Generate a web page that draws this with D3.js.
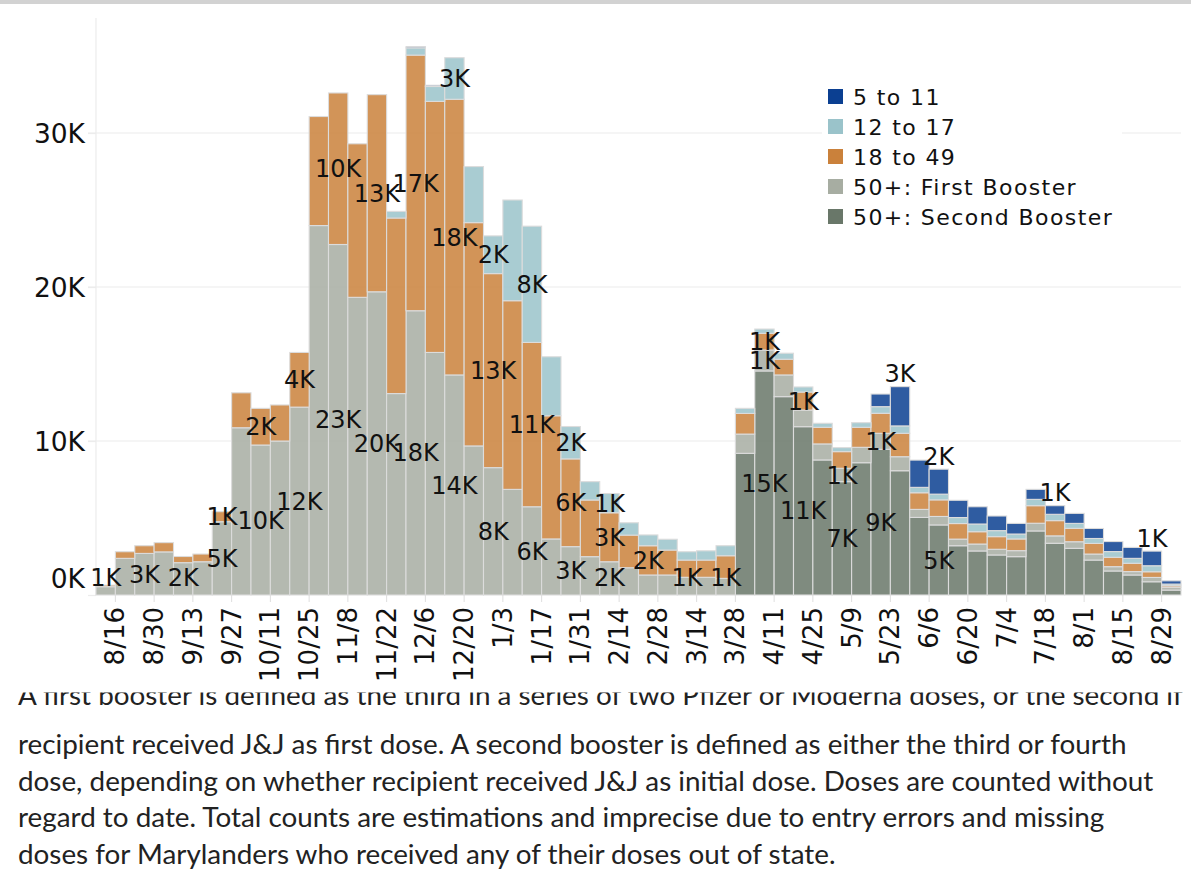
<!DOCTYPE html>
<html><head><meta charset="utf-8">
<script src="https://cdn.jsdelivr.net/npm/d3@7"></script>
<style>
html,body{margin:0;padding:0;background:#fff;overflow:hidden}
svg{display:block}
</style></head><body>
<svg id="c" width="1191" height="886"></svg>
<script>
// ---------------- DATA ----------------
const weeks = ["8/9","8/16","8/23","8/30","9/6","9/13","9/20","9/27","10/4","10/11","10/18","10/25","11/1","11/8","11/15","11/22","11/29","12/6","12/13","12/20","12/27","1/3","1/10","1/17","1/24","1/31","2/7","2/14","2/21","2/28","3/7","3/14","3/21","3/28","4/4","4/11","4/18","4/25","5/2","5/9","5/16","5/23","5/30","6/6","6/13","6/20","6/27","7/4","7/11","7/18","7/25","8/1","8/8","8/15","8/22","8/29"];
const tickLabels = ["8/16","8/30","9/13","9/27","10/11","10/25","11/8","11/22","12/6","12/20","1/3","1/17","1/31","2/14","2/28","3/14","3/28","4/11","4/25","5/9","5/23","6/6","6/20","7/4","7/18","8/1","8/15","8/29"];
const yTicks = [0,10,20,30]; // thousands
const seriesNames = ["50+: Second Booster","50+: First Booster","18 to 49","12 to 17","5 to 11"]; // stack order, bottom first
const legendOrder = ["5 to 11","12 to 17","18 to 49","50+: First Booster","50+: Second Booster"];

// values in thousands of doses, one per week
const secondBooster50 = [0,0,0,0,0,0,0,0,0,0,0,0,0,0,0,0,0,0,0,0,0,0,0,0,0,0,0,0,0,0,0,0,0,
  9.2,14.55,12.88,10.93,8.77,7.36,8.59,9.46,8.07,5.04,4.55,3.2,2.86,2.6,2.49,4.16,3.36,3.03,2.27,1.56,1.3,0.86,0.32];
const firstBooster50 = [0.54,2.38,2.7,2.8,2.1,2.16,4.76,10.86,9.74,10.0,12.2,23.99,22.76,19.33,19.69,13.08,18.46,15.75,14.29,9.68,8.27,6.86,5.73,3.64,3.14,2.49,2.16,1.77,1.3,1.3,1.15,1.15,1.08,
  1.25,1.36,1.41,1.08,1.04,0.87,1.0,1.04,0.91,0.52,0.55,0.43,0.45,0.37,0.39,0.5,0.48,0.43,0.39,0.28,0.22,0.28,0.18];
const age18to49 = [0.1,0.43,0.5,0.6,0.4,0.5,0.65,2.27,2.38,2.34,3.55,7.08,9.84,9.97,12.8,11.4,16.6,16.3,17.9,14.5,12.6,12.25,10.67,8.0,5.7,3.68,3.18,2.12,1.9,1.62,1.12,1.12,1.47,
  1.34,1.08,1.02,1.17,1.08,1.08,1.3,1.3,1.52,1.08,1.08,1.01,0.8,0.82,0.76,1.14,0.99,0.87,0.69,0.61,0.54,0.37,0.1];
const age12to17 = [0,0,0,0,0,0,0,0,0,0,0,0,0,0,0,0.43,0.47,0.97,2.7,3.64,2.45,6.54,7.55,3.83,2.1,1.19,1.25,0.8,0.7,0.7,0.54,0.6,0.65,
  0.33,0.28,0.39,0.33,0.26,0.26,0.3,0.43,0.48,0.35,0.37,0.39,0.5,0.39,0.32,0.41,0.41,0.32,0.32,0.37,0.32,0.39,0.11];
const age5to11 = [0,0,0,0,0,0,0,0,0,0,0,0,0,0,0,0,0.08,0.08,0,0,0,0,0,0,0,0,0,0,0,0,0,0,0,
  0,0,0,0,0,0,0,0.82,2.55,1.77,1.62,1.12,1.12,0.95,0.69,0.65,0.56,0.65,0.65,0.65,0.71,0.95,0.21];

// which segments carry a value label: [week index, series]
const labelMarks = [
  [0,"50+: First Booster"],[2,"50+: First Booster"],[4,"50+: First Booster"],
  [6,"50+: First Booster"],[6,"18 to 49"],[8,"50+: First Booster"],[8,"18 to 49"],
  [10,"50+: First Booster"],[10,"18 to 49"],[12,"50+: First Booster"],[12,"18 to 49"],
  [14,"50+: First Booster"],[14,"18 to 49"],[16,"50+: First Booster"],[16,"18 to 49"],
  [18,"50+: First Booster"],[18,"18 to 49"],[18,"12 to 17"],
  [20,"50+: First Booster"],[20,"18 to 49"],[20,"12 to 17"],
  [22,"50+: First Booster"],[22,"18 to 49"],[22,"12 to 17"],
  [24,"50+: First Booster"],[24,"18 to 49"],[24,"12 to 17"],
  [26,"50+: First Booster"],[26,"18 to 49"],[26,"12 to 17"],
  [28,"18 to 49"],[30,"50+: First Booster"],[32,"50+: First Booster"],
  [34,"50+: Second Booster"],[34,"50+: First Booster"],[34,"18 to 49"],
  [36,"50+: Second Booster"],[36,"18 to 49"],
  [38,"50+: Second Booster"],[38,"50+: First Booster"],
  [40,"50+: Second Booster"],[40,"50+: First Booster"],
  [41,"5 to 11"],[43,"50+: Second Booster"],[43,"5 to 11"],
  [49,"5 to 11"],[54,"5 to 11"]
];

const caption = [
  "A first booster is defined as the third in a series of two Pfizer or Moderna doses, or the second if",
  "recipient received J&J as first dose. A second booster is defined as either the third or fourth",
  "dose, depending on whether recipient received J&J as initial dose. Doses are counted without",
  "regard to date. Total counts are estimations and imprecise due to entry errors and missing",
  "doses for Marylanders who received any of their doses out of state."
];

// ---------------- CHART ----------------
const colors = {
  "5 to 11":"#0b3f91",
  "12 to 17":"#9ac3ca",
  "18 to 49":"#ca813b",
  "50+: First Booster":"#a7ada2",
  "50+: Second Booster":"#697769"
};
const svg = d3.select("#c");
const FONT = "'DejaVu Sans', sans-serif";

svg.append("rect").attr("x",0).attr("y",0).attr("width",1191).attr("height",4).attr("fill","#d2d2d2");

const plotL = 96, plotR = 1181, plotT = 18;
const x = d3.scaleBand().domain(d3.range(weeks.length)).range([plotL, plotR]).paddingInner(0).paddingOuter(0);
const y = d3.scaleLinear().domain([0,30]).range([595,133]);

// gridlines
svg.append("g").selectAll("line").data(yTicks.filter(d=>d>0)).join("line")
  .attr("x1",88).attr("x2",plotR).attr("y1",d=>y(d)).attr("y2",d=>y(d))
  .attr("stroke","#ececec").attr("stroke-width",1.2);
svg.append("line").attr("x1",plotL).attr("x2",plotL).attr("y1",plotT).attr("y2",y(0))
  .attr("stroke","#ececec").attr("stroke-width",1.2);

// y axis
const yAxis = svg.append("g").attr("transform",`translate(${plotL},0)`)
  .call(d3.axisLeft(y).tickValues(yTicks).tickFormat(d=>d+"K").tickSize(8).tickPadding(3));
yAxis.select(".domain").remove();
yAxis.selectAll(".tick line").attr("stroke","#ececec").attr("stroke-width",1.2);
yAxis.selectAll(".tick text").attr("font-family",FONT).attr("font-size",26.5).attr("fill","#111")
  .attr("dy", d => d===0 ? "-0.27em" : "0.35em");

// legend background
const legend = svg.append("g");
legend.append("rect").attr("x",822).attr("y",80).attr("width",300).attr("height",150).attr("fill","#fff");

// stacked bars
const table = weeks.map((w,i)=>({
  week:w,
  "50+: Second Booster":secondBooster50[i],
  "50+: First Booster":firstBooster50[i],
  "18 to 49":age18to49[i],
  "12 to 17":age12to17[i],
  "5 to 11":age5to11[i]
}));
const stacked = d3.stack().keys(seriesNames)(table);
const bars = svg.append("g");
stacked.forEach(layer=>{
  bars.append("g").attr("fill",colors[layer.key]).attr("fill-opacity",0.85)
    .selectAll("rect").data(layer.map((d,i)=>({d,i})).filter(o=>o.d[1]-o.d[0]>0)).join("rect")
    .attr("x",o=>x(o.i)).attr("width",x.bandwidth())
    .attr("y",o=>y(o.d[1])).attr("height",o=>y(o.d[0])-y(o.d[1]))
    .attr("stroke","#dcdcdc").attr("stroke-width",1.1);
});

// x axis
const xAxis = svg.append("g").attr("transform",`translate(${-x.bandwidth()/2},${y(0)})`)
  .call(d3.axisBottom(x).tickValues(tickLabels.map(t=>weeks.indexOf(t))).tickFormat(i=>weeks[i]).tickSize(7).tickPadding(4));
xAxis.select(".domain").remove();
xAxis.selectAll(".tick line").attr("stroke","#dedede");
xAxis.selectAll(".tick text").attr("font-family",FONT).attr("font-size",26).attr("fill","#111")
  .attr("transform","rotate(-90)").attr("text-anchor","end")
  .attr("x",-12).attr("y",0).attr("dy","0.35em").attr("dx",0);

// value labels
const total = i => seriesNames.reduce((s,k)=>s+table[i][k],0);
svg.append("g").selectAll("text").data(labelMarks).join("text")
  .attr("font-family",FONT).attr("font-size",24).attr("fill","#111").attr("text-anchor","middle")
  .attr("x",m=>x(m[0])+x.bandwidth()/2)
  .attr("y",m=>{
    const seg = stacked[seriesNames.indexOf(m[1])][m[0]];
    if(m[1]==="5 to 11") return y(total(m[0])) - 13;
    return Math.min((y(seg[0])+y(seg[1]))/2, y(0)-18);
  })
  .attr("dy","0.36em")
  .text(m=>Math.round(table[m[0]][m[1]])+"K");

// legend
legendOrder.forEach((k,j)=>{
  legend.append("rect").attr("x",828).attr("y",89+30*j).attr("width",15).attr("height",15).attr("fill",colors[k]);
  legend.append("text").attr("x",853).attr("y",104.5+30*j).attr("font-family",FONT).attr("font-size",22)
    .attr("letter-spacing","1.4px").attr("fill","#111").text(k);
});

// caption
const cap = svg.append("g");
svg.append("clipPath").attr("id","clip1").append("rect").attr("x",0).attr("y",692.5).attr("width",1191).attr("height",40);
const capFont = "Lato, 'Noto Sans', sans-serif";
const probe = svg.append("text").attr("font-family",capFont).attr("font-size",20).text(caption[1]);
const fs = 20*1109/probe.node().getComputedTextLength();
probe.remove();
const baselines = [705,754,791,827,864];
caption.forEach((t,j)=>{
  cap.append("text").attr("x",18).attr("y",baselines[j]).attr("font-family",capFont)
    .attr("font-size",fs).attr("fill","#222").attr("clip-path", j===0 ? "url(#clip1)" : null).text(t);
});
</script>
</body></html>
